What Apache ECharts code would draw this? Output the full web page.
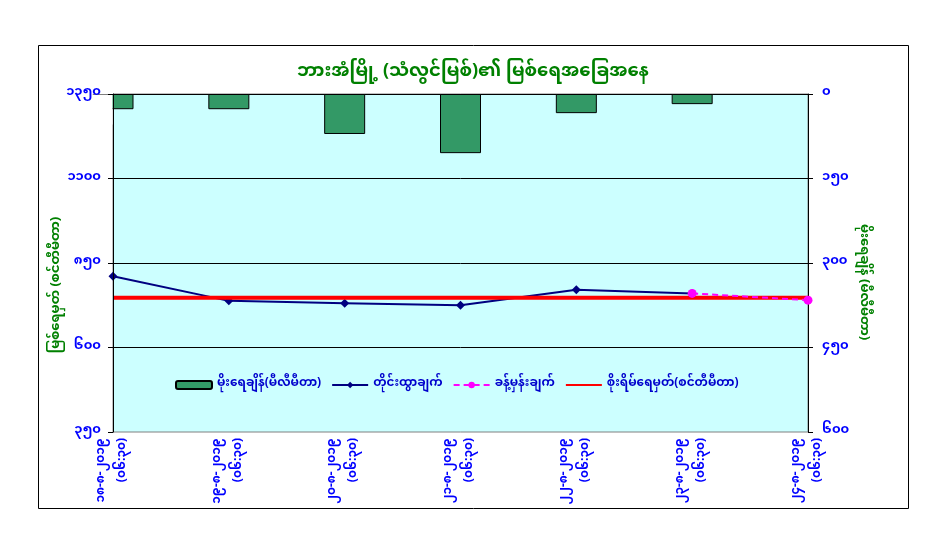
<!DOCTYPE html>
<html>
<head>
<meta charset="utf-8">
<script src="https://cdn.jsdelivr.net/npm/echarts@6/dist/echarts.min.js"></script>
<style>
  html, body { margin: 0; padding: 0; background: #fff; }
  #chart { width: 932px; height: 556px; }
</style>
</head>
<body>
<div id="chart"></div>
<script>
// ရက်စွဲများ
var dates = ['၁၈-၈-၂၀၁၉', '၁၉-၈-၂၀၁၉', '၂၀-၈-၂၀၁၉', '၂၁-၈-၂၀၁၉', '၂၂-၈-၂၀၁၉', '၂၃-၈-၂၀၁၉', '၂၄-၈-၂၀၁၉'];
var times = ['(၀၆:၃၀)', '(၀၆:၃၀)', '(၀၆:၃၀)', '(၀၆:၃၀)', '(၀၆:၃၀)', '(၀၆:၃၀)', '(၀၆:၃၀)'];
// မိုးရေချိန် (mm)
var rainfall = [27, 27, 71, 105, 34, 18, null];
// တိုင်းထွာချက် (cm)
var observed = [811, 738, 731, 725, 771, 760, null];
// ခန့်မှန်းချက်
var forecast = [null, null, null, null, null, 760, 740];
// စိုးရိမ်ရေမှတ်
var dangerLevel = [747, 747, 747, 747, 747, 747, 747];

var myFont = '"Noto Sans Myanmar", "Padauk", "Myanmar Text", "Noto Sans", sans-serif';
var burmeseNums = ['၀','၁','၂','၃','၄','၅','၆','၇','၈','၉'];
function toMy(n) {
    return String(n).replace(/[0-9]/g, function(d) { return burmeseNums[+d]; });
}

var categories = dates.map(function(d, i) { return d + '\n' + times[i]; });

var chart = echarts.init(document.getElementById('chart'));
var option = {
    animation: false,
    textStyle: { fontFamily: myFont },
    title: {
        text: 'ဘားအံမြို့ (သံလွင်မြစ်)၏ မြစ်ရေအခြေအနေ',
        left: 468, top: 60, textAlign: 'center',
        textStyle: { color: '#008000', fontSize: 18, fontWeight: 'bold', fontFamily: myFont }
    },
    graphic: [
        { type: 'rect', shape: { x: 38.5, y: 45.5, width: 870, height: 463 },
          style: { fill: 'none', stroke: '#000', lineWidth: 1 }, silent: true },
        // ပထမတိုင်ရဲ့ ဘယ်ဘက်ခြမ်းကို ဖုံးရန်
        { type: 'rect', shape: { x: 80, y: 94.5, width: 32.5, height: 30 },
          style: { fill: '#fff' }, z: 20, silent: true },
        { type: 'text', x: 58, y: 285, rotation: Math.PI / 2,
          style: { text: 'မြစ်ရေမှတ် (စင်တီမီတာ)', fill: '#008000', font: 'bold 13px ' + myFont,
                   textAlign: 'center', textVerticalAlign: 'middle' } },
        { type: 'text', x: 862, y: 282, rotation: -Math.PI / 2,
          style: { text: 'မိုးရေချိန် (မီလီမီတာ)', fill: '#008000', font: 'bold 13px ' + myFont,
                   textAlign: 'center', textVerticalAlign: 'middle' } }
    ],
    legend: {
        top: 374, left: 170,
        itemGap: 10, itemWidth: 36, itemHeight: 8,
        textStyle: { color: '#0000CC', fontWeight: 'bold', fontSize: 12, fontFamily: myFont },
        data: [
            { name: 'မိုးရေချိန်(မီလီမီတာ)' },
            { name: 'တိုင်းထွာချက်' },
            { name: 'ခန့်မှန်းချက်' },
            { name: 'စိုးရိမ်ရေမှတ်(စင်တီမီတာ)', itemStyle: { opacity: 0 } }
        ]
    },
    grid: {
        left: 113, right: 124, top: 94, bottom: 124,
        show: true, backgroundColor: '#CCFFFF', borderColor: '#808080', borderWidth: 1
    },
    xAxis: {
        type: 'category',
        data: categories,
        boundaryGap: false,
        axisLine: { lineStyle: { color: '#000', width: 1 } },
        axisTick: { show: true, alignWithLabel: true, length: 5, lineStyle: { color: '#000' } },
        axisLabel: {
            rotate: 90, interval: 0, margin: 6,
            color: '#0000FF', fontWeight: 'bold', fontSize: 12, lineHeight: 21, fontFamily: myFont
        }
    },
    yAxis: [
        {
            type: 'value', min: 350, max: 1350, interval: 250,
            z: 30,
            axisLine: { show: true, lineStyle: { color: '#000' } },
            axisTick: { show: true, inside: false, length: 5, lineStyle: { color: '#000' } },
            axisLabel: { color: '#0000FF', fontWeight: 'bold', fontSize: 13, margin: 12,
                         formatter: function(v) { return toMy(v); } },
            splitLine: { show: true, showMaxLine: false, showMinLine: false, lineStyle: { color: '#000', width: 1 } }
        },
        {
            type: 'value', min: 0, max: 600, interval: 150, inverse: true, position: 'right',
            axisLine: { show: true, lineStyle: { color: '#000' } },
            axisTick: { show: true, length: 5, lineStyle: { color: '#000' } },
            axisLabel: { color: '#0000FF', fontWeight: 'bold', fontSize: 13, margin: 14,
                         formatter: function(v) { return toMy(v); } },
            splitLine: { show: false }
        }
    ],
    series: [
        {
            name: 'မိုးရေချိန်(မီလီမီတာ)', type: 'bar', yAxisIndex: 1,
            data: rainfall, barWidth: 41,
            itemStyle: { color: '#339966', borderColor: '#000', borderWidth: 1 },
            z: 2
        },
        {
            name: 'တိုင်းထွာချက်', type: 'line', data: observed,
            symbol: 'diamond', symbolSize: 9,
            lineStyle: { color: '#000080', width: 2 },
            itemStyle: { color: '#000080' },
            z: 3
        },
        {
            name: 'စိုးရိမ်ရေမှတ်(စင်တီမီတာ)', type: 'line', data: dangerLevel,
            symbol: 'none', lineStyle: { color: '#FF0000', width: 4 },
            itemStyle: { color: '#FF0000' },
            z: 4
        },
        {
            name: 'ခန့်မှန်းချက်', type: 'line', data: forecast,
            symbol: 'circle', symbolSize: 9,
            lineStyle: { color: '#FF00FF', width: 2, type: [6, 4] },
            itemStyle: { color: '#FF00FF' },
            z: 5
        }
    ]
};
chart.setOption(option);
</script>
</body>
</html>
